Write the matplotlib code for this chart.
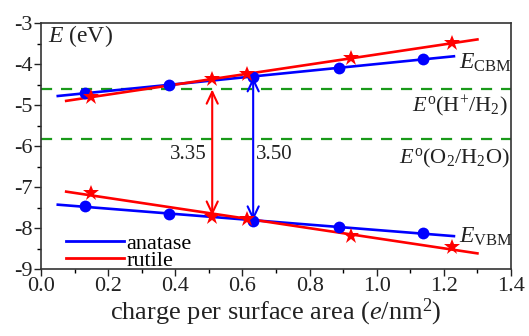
import numpy as np
import matplotlib
matplotlib.use("Agg")
import matplotlib.pyplot as plt
from matplotlib.lines import Line2D
from matplotlib.ticker import MultipleLocator

plt.rcParams['font.family'] = ['Liberation Serif', 'DejaVu Serif']
plt.rcParams['mathtext.fontset'] = 'custom'
plt.rcParams['mathtext.rm'] = 'Liberation Serif'
plt.rcParams['mathtext.it'] = 'Liberation Serif:italic'

# anatase (blue circles)
ana_x = [0.13, 0.38, 0.63, 0.887, 1.137]
ana_cbm = [-4.71, -4.51, -4.31, -4.10, -3.88]
ana_vbm = [-7.46, -7.66, -7.83, -7.98, -8.12]
ana_fit_range = [0.05, 1.23]

# rutile (red stars)
rut_x = [0.15, 0.51, 0.615, 0.922, 1.224]
rut_cbm = [-4.80, -4.37, -4.25, -3.86, -3.49]
rut_vbm = [-7.14, -7.72, -7.79, -8.19, -8.47]
rut_fit_range = [0.075, 1.30]

# redox potentials
e_h = -4.6
e_o = -5.82

# gaps
gap_rut = (0.51, -4.62, -7.70, "3.35")
gap_ana = (0.632, -4.32, -7.82, "3.50")

blue = '#0000ff'
red = '#ff0000'
green = '#1a9a1a'
tc = '#222222'

fig = plt.figure(figsize=(5.29, 3.36), dpi=100)
ax = fig.add_axes([41/529, 1-269/336, 470/529, 246/336])

def fit_line(x, y, rng):
    p = np.polyfit(x, y, 1)
    xs = np.array(rng)
    return xs, np.polyval(p, xs)

for x, y, rng, c, m, ms in [
    (ana_x, ana_cbm, ana_fit_range, blue, 'o', 8.5),
    (ana_x, ana_vbm, ana_fit_range, blue, 'o', 8.5),
    (rut_x, rut_cbm, rut_fit_range, red, '*', 12),
    (rut_x, rut_vbm, rut_fit_range, red, '*', 12),
]:
    xs, ys = fit_line(x, y, rng)
    ax.plot(xs, ys, color=c, lw=1.9, zorder=3)
    ax.plot(x, y, linestyle='none', marker=m, color=c, ms=ms, mew=0, zorder=4)

ax.axhline(e_h, color=green, lw=1.6, ls=(0, (5, 4)), zorder=2)
ax.axhline(e_o, color=green, lw=1.6, ls=(0, (5, 4)), zorder=2)

for (gx, gtop, gbot, lab), c in [(gap_rut, red), (gap_ana, blue)]:
    ax.annotate('', xy=(gx, gtop), xytext=(gx, gbot),
                arrowprops=dict(arrowstyle='<->,head_length=0.85,head_width=0.4',
                                color=c, lw=1.5, shrinkA=0, shrinkB=0))
ax.text(0.495, -6.2, gap_rut[3], ha='right', va='center', fontsize=15, color=tc)
ax.text(0.64, -6.2, gap_ana[3], ha='left', va='center', fontsize=15, color=tc)

ax.text(0.02, -3.33, r'$\mathit{E}$ (eV)', ha='left', va='center', fontsize=17, color=tc)
ax.text(1.245, -3.97, r'$\mathit{E}_{\mathrm{CBM}}$', ha='left', va='center', fontsize=17, color=tc)
ax.text(1.245, -8.22, r'$\mathit{E}_{\mathrm{VBM}}$', ha='left', va='center', fontsize=17, color=tc)
ax.text(1.39, -5.03, r'$\mathit{E}^{\mathrm{o}}(\mathrm{H}^{+}/\mathrm{H}_{2})$', ha='right', va='center', fontsize=16, color=tc)
ax.text(1.395, -6.3, r'$\mathit{E}^{\mathrm{o}}(\mathrm{O}_{2}/\mathrm{H}_{2}\mathrm{O})$', ha='right', va='center', fontsize=16, color=tc)

handles = [Line2D([], [], color=blue, lw=2), Line2D([], [], color=red, lw=2)]
ax.legend(handles, ['anatase', 'rutile'], loc='lower left', frameon=False, fontsize=16,
          handlelength=2.6, handletextpad=0.1, labelspacing=-0.15, borderaxespad=0.0,
          bbox_to_anchor=(0.035, -0.045))

ax.set_xlim(0.0, 1.4)
ax.set_ylim(-9, -3)
ax.xaxis.set_major_locator(MultipleLocator(0.2))
ax.xaxis.set_minor_locator(MultipleLocator(0.1))
ax.yaxis.set_major_locator(MultipleLocator(1))
ax.yaxis.set_minor_locator(MultipleLocator(0.5))
ax.xaxis.set_major_formatter(matplotlib.ticker.FormatStrFormatter('%.1f'))
ax.yaxis.set_major_formatter(matplotlib.ticker.FuncFormatter(lambda v, p: '%d' % v))
ax.tick_params(which='major', direction='out', length=5, width=1, labelsize=16, colors=tc, pad=1)
ax.tick_params(which='minor', direction='out', length=3, width=1)
for s in ax.spines.values():
    s.set_color('#333333')
    s.set_linewidth(1.2)
ax.set_xlabel(r'charge per surface area ($\mathit{e}$/nm$^{2}$)', fontsize=19, color=tc, labelpad=0)

fig.savefig('out.png', dpi=100)
